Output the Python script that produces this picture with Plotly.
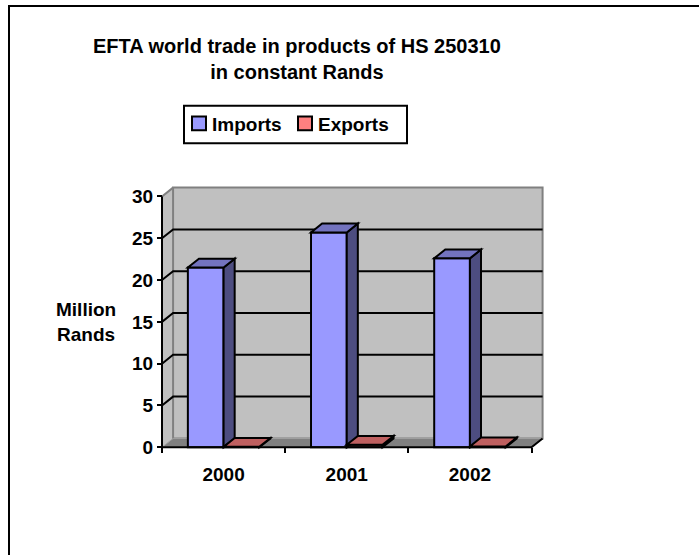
import plotly.graph_objects as go

# ---- data -------------------------------------------------------------
years = ["2000", "2001", "2002"]
imports = [21.5, 25.7, 22.6]      # million Rands
exports = [0.05, 0.3, 0.1]        # million Rands
y_ticks = [0, 5, 10, 15, 20, 25, 30]
series_names = ["Imports", "Exports"]

# ---- geometry ---------------------------------------------------------
W, H = 699, 555
FONT = "Liberation Sans, Arial, sans-serif"

Y_MAX = y_ticks[-1]
X_LO, X_HI = -0.5, len(years) - 0.5   # front edge of the floor
DX, DY = 0.09, 1.06                   # depth of the 3-D box (axis units)
BAR_W = 0.29

# pixel anchoring of the front axes
AX_LEFT_PX, AX_BOTTOM_PX = 162, 453
SX = (531.5 - AX_LEFT_PX) / (X_HI - X_LO)   # px per category
SY = (AX_BOTTOM_PX - 199) / Y_MAX           # px per value unit
PAD_X, PAD_Y = 0.04, 0.4                    # keeps edge strokes unclipped

x_range = [X_LO - PAD_X, X_HI + DX + PAD_X]
y_range = [-PAD_Y, Y_MAX + DY + PAD_Y]


def px_x(v):
    return AX_LEFT_PX + (v - X_LO) * SX


def px_y(v):
    return AX_BOTTOM_PX - v * SY


x_domain = [px_x(x_range[0]) / W, px_x(x_range[1]) / W]
y_domain = [1 - px_y(y_range[0]) / H, 1 - px_y(y_range[1]) / H]

IMP_FRONT, IMP_TOP, IMP_SIDE = "#9999FF", "#7373BF", "#4D4D80"
EXP_FRONT, EXP_TOP, EXP_SIDE = "#FF8080", "#BF6060", "#804040"
WALL, FLOOR, EDGE = "#C0C0C0", "#808080", "#808080"

pos = list(range(len(years)))

fig = go.Figure()
fig.add_bar(x=pos, y=imports, name=series_names[0], width=BAR_W, offset=-BAR_W,
            marker=dict(color=IMP_FRONT, line=dict(color="black", width=2)))
fig.add_bar(x=pos, y=exports, name=series_names[1], width=BAR_W, offset=0,
            marker=dict(color=EXP_FRONT, line=dict(color="black", width=2)))


def path(pts):
    return "M" + " L".join(f"{x},{y}" for x, y in pts) + " Z"


shapes = []
# side wall, back wall and floor of the box
shapes.append(dict(type="path", layer="below", line=dict(width=0), fillcolor=WALL,
                   path=path([(X_LO, 0), (X_LO, Y_MAX), (X_LO + DX, Y_MAX + DY), (X_LO + DX, DY)])))
shapes.append(dict(type="rect", layer="below", fillcolor=WALL, line=dict(color=EDGE, width=2),
                   x0=X_LO + DX, x1=X_HI + DX, y0=DY, y1=Y_MAX + DY))
shapes.append(dict(type="path", layer="below", fillcolor=FLOOR, line=dict(color="#A0A0A0", width=1),
                   path=path([(X_LO, 0), (X_HI, 0), (X_HI + DX, DY), (X_LO + DX, DY)])))
# gridlines over side wall and back wall
for v in y_ticks[1:-1]:
    shapes.append(dict(type="path", layer="below", line=dict(color="black", width=2),
                       path=f"M{X_LO},{v} L{X_LO + DX},{v + DY} L{X_HI + DX},{v + DY}"))
# top edge of the side wall
shapes.append(dict(type="line", layer="below", line=dict(color=EDGE, width=2),
                   x0=X_LO, y0=Y_MAX, x1=X_LO + DX, y1=Y_MAX + DY))

# top and side faces of every column
for series, off, top_c, side_c in ((imports, -BAR_W, IMP_TOP, IMP_SIDE),
                                   (exports, 0, EXP_TOP, EXP_SIDE)):
    for p, v in zip(pos, series):
        xl = p + off
        xr = xl + BAR_W
        shapes.append(dict(type="path", layer="above", fillcolor=side_c,
                           line=dict(color="black", width=2),
                           path=path([(xr, 0), (xr, v), (xr + DX, v + DY), (xr + DX, DY)])))
        shapes.append(dict(type="path", layer="above", fillcolor=top_c,
                           line=dict(color="black", width=2),
                           path=path([(xl, v), (xr, v), (xr + DX, v + DY), (xl + DX, v + DY)])))

# front axis lines
shapes.append(dict(type="line", layer="above", line=dict(color="black", width=2),
                   x0=X_LO, y0=0, x1=X_LO, y1=Y_MAX))
shapes.append(dict(type="path", layer="above", line=dict(color="black", width=2),
                   path=f"M{X_LO},0 L{X_HI},0 L{X_HI + DX},{DY}"))

# outer chart frame
shapes.append(dict(type="rect", xref="paper", yref="paper", layer="below",
                   line=dict(color="black", width=2), fillcolor="rgba(0,0,0,0)",
                   x0=9 / W, x1=1.2, y0=-0.2, y1=1 - 6 / H))

# legend box with swatches (pixel layout)
LEG_BOX = (184, 107, 407, 145)
LEG_ITEMS = [(192, IMP_FRONT), (298, EXP_FRONT)]
SW = 14
shapes.append(dict(type="rect", xref="paper", yref="paper", layer="above",
                   line=dict(color="black", width=2), fillcolor="white",
                   x0=LEG_BOX[0] / W, x1=LEG_BOX[2] / W,
                   y0=1 - LEG_BOX[3] / H, y1=1 - LEG_BOX[1] / H))
legend_notes = []
for (sx, col), name in zip(LEG_ITEMS, series_names):
    shapes.append(dict(type="rect", xref="paper", yref="paper", layer="above",
                       line=dict(color="black", width=2), fillcolor=col,
                       x0=sx / W, x1=(sx + SW) / W, y0=1 - 132 / H, y1=1 - 118 / H))
    legend_notes.append(dict(text=name, xref="paper", yref="paper",
                             x=(sx + SW + 4) / W, y=1 - 126 / H,
                             xanchor="left", yanchor="middle", showarrow=False,
                             font=dict(family=FONT, size=19, color="black", weight="bold")))

tick_font = dict(family=FONT, size=19, color="black", weight="bold")

fig.update_layout(
    width=W, height=H,
    margin=dict(l=0, r=0, t=0, b=0),
    paper_bgcolor="white", plot_bgcolor="rgba(0,0,0,0)",
    barmode="overlay",
    showlegend=False,
    xaxis=dict(range=x_range, domain=x_domain, anchor="free",
               position=1 - AX_BOTTOM_PX / H,
               tickmode="array", tickvals=pos, ticktext=years, ticks="",
               ticklabelstandoff=14,
               tickfont=tick_font, showgrid=False, zeroline=False, showline=False,
               minor=dict(tickmode="array", tickvals=[X_LO + i for i in range(len(years) + 1)],
                          ticks="outside", ticklen=5, tickwidth=2, tickcolor="black",
                          showgrid=False)),
    yaxis=dict(range=y_range, domain=y_domain, anchor="free", position=AX_LEFT_PX / W,
               tickmode="array", tickvals=y_ticks, ticks="outside", ticklen=5,
               tickwidth=2, tickcolor="black", tickfont=tick_font,
               showgrid=False, zeroline=False, showline=False),
    shapes=shapes,
    annotations=[
        dict(text="EFTA world trade in products of HS 250310<br>in constant Rands",
             xref="paper", yref="paper", x=296.5 / W, y=1 - 59.5 / H,
             xanchor="center", yanchor="middle", showarrow=False, align="center",
             font=dict(family=FONT, size=20, color="black", weight="bold")),
        dict(text="Million<br>Rands", xref="paper", yref="paper",
             x=86 / W, y=1 - 326 / H, xanchor="center", yanchor="middle",
             showarrow=False, align="center",
             font=dict(family=FONT, size=19, color="black", weight="bold")),
    ] + legend_notes,
)

fig.write_html("out.html")
